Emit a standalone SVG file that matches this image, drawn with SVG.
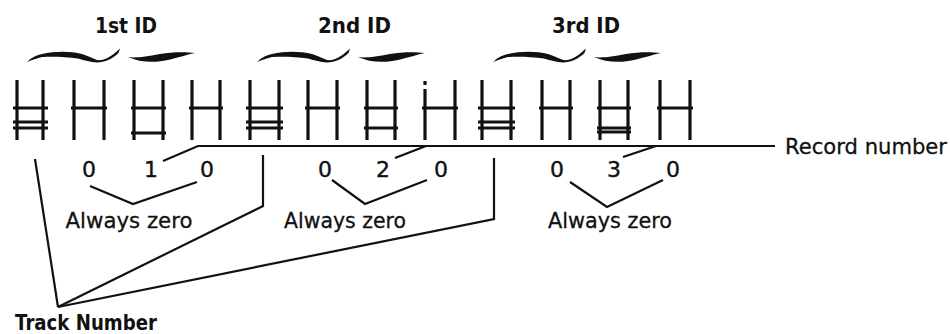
<svg xmlns="http://www.w3.org/2000/svg" xmlns:xlink="http://www.w3.org/1999/xlink" width="950" height="334" viewBox="0 0 950 334">
  <style>
    .h { fill: none; stroke: #111; stroke-width: 3.2; stroke-linecap: butt; }
    .ln { fill: none; stroke: #111; stroke-width: 2.2; stroke-linejoin: miter; }
    .brace { fill: #111; stroke: none; }
    .title { font-family: "DejaVu Sans", "Liberation Sans", sans-serif; font-weight: bold; font-size: 21px; fill: #111; text-anchor: middle; }
    .dig { font-family: "DejaVu Sans", "Liberation Sans", sans-serif; font-size: 22px; fill: #111; stroke: #111; stroke-width: 0.4; text-anchor: middle; }
    .lab { font-family: "DejaVu Sans", "Liberation Sans", sans-serif; font-size: 22px; fill: #111; stroke: #111; stroke-width: 0.3; text-anchor: middle; }
    .side { font-family: "DejaVu Sans", "Liberation Sans", sans-serif; font-size: 21.5px; fill: #111; stroke: #111; stroke-width: 0.3; }
    .tn { font-family: "DejaVu Sans", "Liberation Sans", sans-serif; font-weight: bold; font-size: 20.5px; fill: #111; }
  </style>
  <defs>
    <g id="braceShape">
      <path class="brace" d="M27,62 C32,57 37,55 42,54 C55,51 70,51 82,54 C88,56 92,58 97,60 C104,61 110,57 116,52 L120,48.5 L118.5,53 C112,59 105,62.5 97,62.5 C90,62 85,60.5 78,58.5 C65,56.5 50,56.5 42,57 C36,58.5 31,60.5 27,62 Z"/>
      <path class="brace" d="M128,57 C135,58 145,57 160,54 C172,52 185,52 195,53 C185,55 175,59 162,61 C150,63 138,61.5 128,57 Z"/>
    </g>
  </defs>
  <rect width="950" height="334" fill="#fff"/>

  <g id="field-1st-id">
    <use xlink:href="#braceShape"/>
    <text class="title" x="126" y="33" textLength="62" lengthAdjust="spacingAndGlyphs">1st ID</text>
    <path class="h" d="M17,80V140 M43,80V140 M13,108H48 M13,122H48 M13,128H48"/>
    <path class="h" d="M74,80V140 M104,80V140 M71,108H107"/>
    <path class="h" d="M134,80V140 M163,80V140 M131,108H166 M131,133H166"/>
    <path class="h" d="M192,80V140 M220,80V140 M189,108H223"/>
  </g>

  <g id="field-2nd-id">
    <use xlink:href="#braceShape" transform="translate(230,0)"/>
    <text class="title" x="354.5" y="33" textLength="73" lengthAdjust="spacingAndGlyphs">2nd ID</text>
    <path class="h" d="M250,80V140 M279,80V140 M246,108H283 M246,122H283 M246,128H283"/>
    <path class="h" d="M308,80V140 M337,80V140 M305,108H340"/>
    <path class="h" d="M367,80V140 M395,80V140 M364,108H398 M364,128H398"/>
    <path class="h" d="M425,81V85 M425,89V140 M455,80V140 M422,108H458"/>
  </g>

  <g id="field-3rd-id">
    <use xlink:href="#braceShape" transform="translate(466,0)"/>
    <text class="title" x="586" y="33" textLength="68" lengthAdjust="spacingAndGlyphs">3rd ID</text>
    <path class="h" d="M482,80V140 M511,80V140 M478,108H515 M478,122H515 M478,128H515"/>
    <path class="h" d="M542,80V140 M570,80V140 M539,108H573"/>
    <path class="h" d="M600,80V140 M628,80V140 M597,108H631 M597,128H631 M597,132H631"/>
    <path class="h" d="M660,80V140 M690,80V140 M657,108H693"/>
  </g>

  <g id="digits-1">
    <text class="dig" x="89" y="177">0</text>
    <text class="dig" x="151" y="177">1</text>
    <text class="dig" x="207" y="177">0</text>
  </g>
  <g id="digits-2">
    <text class="dig" x="325" y="177">0</text>
    <text class="dig" x="383" y="177">2</text>
    <text class="dig" x="441" y="177">0</text>
  </g>
  <g id="digits-3">
    <text class="dig" x="557" y="177">0</text>
    <text class="dig" x="614" y="177">3</text>
    <text class="dig" x="673" y="177">0</text>
  </g>

  <g id="always-zero-1"><text class="lab" x="129" y="228" textLength="127" lengthAdjust="spacingAndGlyphs">Always zero</text></g>
  <g id="always-zero-2"><text class="lab" x="345" y="228" textLength="122" lengthAdjust="spacingAndGlyphs">Always zero</text></g>
  <g id="always-zero-3"><text class="lab" x="610" y="228" textLength="124" lengthAdjust="spacingAndGlyphs">Always zero</text></g>

  <g id="record-number"><text class="side" x="785" y="154" textLength="162" lengthAdjust="spacingAndGlyphs">Record number</text></g>
  <g id="track-number"><text class="tn" x="15" y="330" textLength="142" lengthAdjust="spacingAndGlyphs">Track Number</text></g>

  <g id="connectors">
    <path class="ln" d="M163,161 L198,146 L775,146"/>
    <path class="ln" d="M395,158 L426,146"/>
    <path class="ln" d="M623,157 L656,146"/>
    <path class="ln" d="M90,186 L133,204 L197,182"/>
    <path class="ln" d="M332,180 L365,204 L427,180"/>
    <path class="ln" d="M570,182 L607,207 L663,180"/>
    <path class="ln" d="M35,159 L58,307"/>
    <path class="ln" d="M263,155 L263,206 L58,307"/>
    <path class="ln" d="M494,158 L494,219 L58,307"/>
  </g>
</svg>
